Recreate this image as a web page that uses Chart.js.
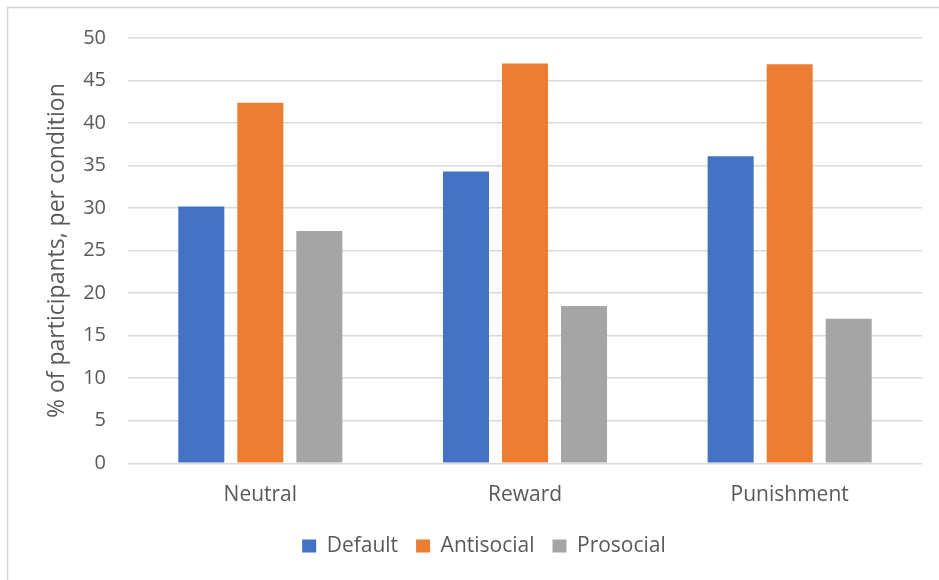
<!DOCTYPE html>
<html>
<head>
<meta charset="utf-8">
<script src="https://cdn.jsdelivr.net/npm/chart.js@4.4.1/dist/chart.umd.min.js"></script>
<style>
  html, body { margin: 0; padding: 0; background: #ffffff; }
  #wrap { width: 939px; height: 580px; }
</style>
</head>
<body>
<div id="wrap"><canvas id="chart" width="939" height="580"></canvas></div>
<script>
// Conditions and the share of participants choosing each option
const categories = ['Neutral', 'Reward', 'Punishment'];
const seriesNames = ['Default', 'Antisocial', 'Prosocial'];
const defaultValues = [30.2, 34.3, 36.1];
const antisocialValues = [42.4, 47.0, 46.9];
const prosocialValues = [27.3, 18.5, 17.0];
const seriesColors = ['#4472C4', '#ED7D31', '#A5A5A5'];
const yTicks = [0, 5, 10, 15, 20, 25, 30, 35, 40, 45, 50];

const textColor = '#595959';
const fontFamily = '"Open Sans", "Noto Sans", sans-serif';

// Thin frame around the whole chart
const framePlugin = {
  id: 'frame',
  beforeDraw(chart) {
    const ctx = chart.ctx;
    ctx.save();
    ctx.fillStyle = '#ffffff';
    ctx.fillRect(0, 0, chart.width, chart.height);
    ctx.strokeStyle = '#d4d4d4';
    ctx.lineWidth = 1.5;
    ctx.strokeRect(7.5, 7.5, chart.width + 20, chart.height + 20);
    ctx.restore();
  }
};

// Shift the legend row so it sits a little right of centre
const legendShift = {
  id: 'legendShift',
  afterLayout(chart) {
    if (chart.legend) {
      chart.legend.left += 19;
      chart.legend.right += 19;
    }
  }
};

const valueLists = [defaultValues, antisocialValues, prosocialValues];

new Chart(document.getElementById('chart'), {
  type: 'bar',
  data: {
    labels: categories,
    datasets: seriesNames.map((name, i) => ({
      label: name,
      data: valueLists[i],
      backgroundColor: seriesColors[i],
      borderWidth: 0,
      categoryPercentage: 0.669,
      barPercentage: 0.78
    }))
  },
  options: {
    responsive: false,
    animation: false,
    layout: { padding: { left: 8, right: 17, top: 38, bottom: 13.5 } },
    plugins: {
      tooltip: { enabled: false },
      legend: {
        position: 'bottom',
        labels: {
          color: textColor,
          font: { family: fontFamily, size: 21 },
          boxWidth: 14,
          boxHeight: 13,
          padding: 18
        }
      }
    },
    scales: {
      x: {
        grid: { display: false, drawTicks: false },
        border: { display: false },
        ticks: {
          color: textColor,
          font: { family: fontFamily, size: 21 },
          padding: 19
        },
        afterFit(scale) { scale.height = 54.2; }
      },
      y: {
        min: 0,
        max: 50,
        afterBuildTicks(scale) { scale.ticks = yTicks.map(v => ({ value: v })); },
        grid: { color: '#d9d9d9', lineWidth: 1.5, drawTicks: false },
        border: { display: false },
        ticks: {
          color: textColor,
          font: { family: fontFamily, size: 20 },
          padding: 22
        },
        title: {
          display: true,
          text: '% of participants, per condition',
          color: textColor,
          font: { family: fontFamily, size: 23 },
          padding: { top: 36, bottom: 0 }
        },
        afterFit(scale) { scale.width = 120; }
      }
    }
  },
  plugins: [framePlugin, legendShift]
});
</script>
</body>
</html>
